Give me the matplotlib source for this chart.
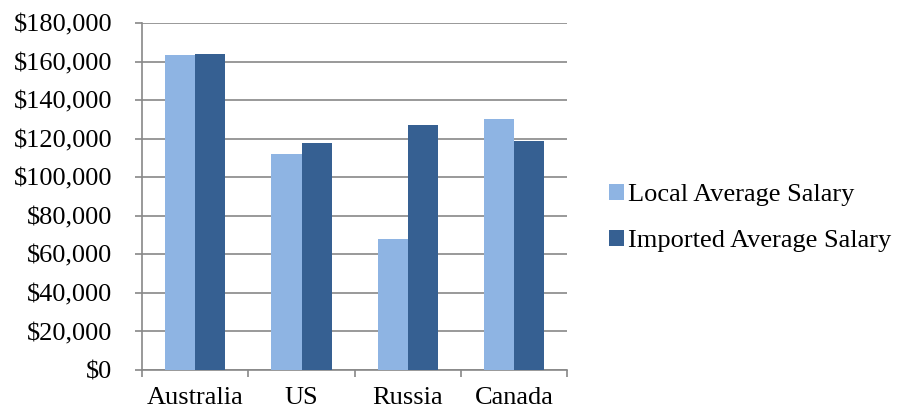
import numpy as np
import matplotlib.pyplot as plt
from matplotlib.ticker import FuncFormatter, MultipleLocator

# data
countries = ["Australia", "US", "Russia", "Canada"]
local_salary = [163500, 112000, 68000, 130000]
imported_salary = [164000, 118000, 127000, 119000]

LIGHT = "#8EB4E3"
DARK = "#366092"
GRID = "#888888"

plt.rcParams["font.family"] = ["Liberation Serif", "DejaVu Serif"]

fig = plt.figure(figsize=(8.99, 4.12), dpi=100)
ax = fig.add_axes([0.158, 0.102, 0.473, 0.842])

x = np.arange(len(countries))
w = 0.283
ax.bar(x - w / 2, local_salary, w, color=LIGHT, label="Local Average Salary", zorder=3)
ax.bar(x + w / 2, imported_salary, w, color=DARK, label="Imported Average Salary", zorder=3)

ax.set_xlim(-0.5, len(countries) - 0.5)
ax.set_ylim(0, 180000)
ax.yaxis.set_major_locator(MultipleLocator(20000))
ax.yaxis.set_major_formatter(FuncFormatter(lambda v, p: f"${v:,.0f}"))
ax.grid(axis="y", color=GRID, linewidth=1.2, zorder=0)

# category labels at centers, tick marks at the boundaries
ax.set_xticks(x)
ax.set_xticklabels(countries)
ax.set_xticks(np.arange(len(countries) + 1) - 0.5, minor=True)
ax.tick_params(axis="x", which="major", length=0, pad=12.5, labelsize=19)
ax.tick_params(axis="x", which="minor", length=5, width=1.2, color=GRID, direction="out")
ax.tick_params(axis="y", length=5, width=1.2, color=GRID, pad=16.5, labelsize=19)

for s in ["top", "right"]:
    ax.spines[s].set_visible(False)
for s in ["left", "bottom"]:
    ax.spines[s].set_color(GRID)
    ax.spines[s].set_linewidth(1.2)

ax.legend(loc="center left", bbox_to_anchor=(1.043, 0.438), frameon=False, fontsize=19,
          handlelength=0.55, handleheight=0.55, handletextpad=0.15, labelspacing=0.9)

fig.savefig("out.png", dpi=100)
